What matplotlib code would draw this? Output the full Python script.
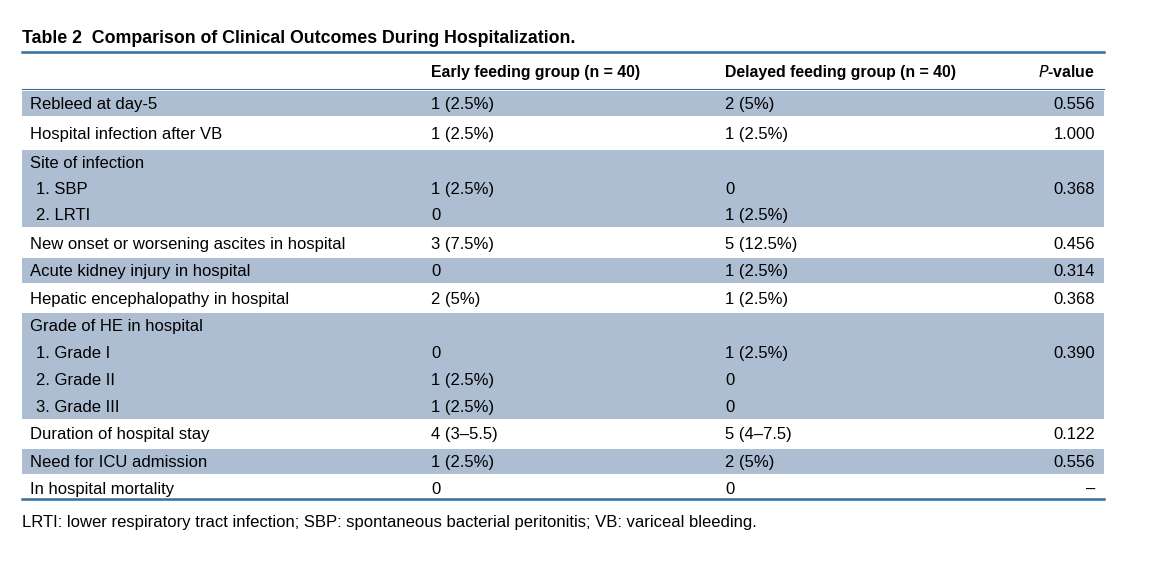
import matplotlib.pyplot as plt
from matplotlib.patches import Rectangle

plt.rcParams['font.family'] = ['Liberation Sans', 'DejaVu Sans']

# table content
labels = ["Rebleed at day-5", "Hospital infection after VB", "Site of infection",
          "1. SBP", "2. LRTI", "New onset or worsening ascites in hospital",
          "Acute kidney injury in hospital", "Hepatic encephalopathy in hospital",
          "Grade of HE in hospital", "1. Grade I", "2. Grade II", "3. Grade III",
          "Duration of hospital stay", "Need for ICU admission", "In hospital mortality"]
early = ["1 (2.5%)", "1 (2.5%)", "", "1 (2.5%)", "0", "3 (7.5%)", "0", "2 (5%)",
         "", "0", "1 (2.5%)", "1 (2.5%)", "4 (3\u20135.5)", "1 (2.5%)", "0"]
delayed = ["2 (5%)", "1 (2.5%)", "", "0", "1 (2.5%)", "5 (12.5%)", "1 (2.5%)", "1 (2.5%)",
           "", "1 (2.5%)", "0", "0", "5 (4\u20137.5)", "2 (5%)", "0"]
pvals = ["0.556", "1.000", "", "0.368", "", "0.456", "0.314", "0.368",
         "", "0.390", "", "", "0.122", "0.556", "\u2013"]
# group index per row; even groups are shaded
group = [0, 1, 2, 2, 2, 3, 4, 5, 6, 6, 6, 6, 7, 8, 9]
row_y = [103, 133, 162, 188, 214, 243, 270, 298, 325, 352, 379, 406, 433, 461, 488]

title = "Table 2  Comparison of Clinical Outcomes During Hospitalization."
headers = ["Early feeding group (n = 40)", "Delayed feeding group (n = 40)"]
footnote = "LRTI: lower respiratory tract infection; SBP: spontaneous bacterial peritonitis; VB: variceal bleeding."

band = '#adbdd2'
line = '#336f9c'
x0, x1 = 22, 1104
fs = 12

fig = plt.figure(figsize=(11.7, 5.61), dpi=100)
ax = fig.add_axes([0, 0, 1, 1])
ax.set_xlim(0, 1170)
ax.set_ylim(561, 0)
ax.axis('off')

# shaded bands
for g in sorted(set(group)):
    if g % 2 != 0:
        continue
    idx = [i for i, gg in enumerate(group) if gg == g]
    top = row_y[idx[0]] - 13.5
    bot = row_y[idx[-1]] + 13.5
    ax.add_patch(Rectangle((x0, top + 1), x1 - x0, bot - top - 2, color=band, lw=0))

ax.text(x0, 38, title, fontsize=12.8, fontweight='bold', va='center', ha='left')
ax.plot([x0, x1], [52, 52], color=line, lw=1.8)
ax.text(431, 72, headers[0], fontsize=11.4, fontweight='bold', va='center')
ax.text(725, 72, headers[1], fontsize=11.4, fontweight='bold', va='center')
ax.text(1095, 72, "$\\bf{\\it{P}}$-value", fontsize=11.4, fontweight='bold', va='center', ha='right')
ax.plot([x0, x1], [88.5, 88.5], color=line, lw=0.8)

for i, y in enumerate(row_y):
    lab = labels[i]
    lx = 36 if lab[:2] in ("1.", "2.", "3.") else 30
    y = y + 1
    ax.text(lx, y, lab, fontsize=fs, va='center')
    ax.text(431, y, early[i], fontsize=fs, va='center')
    ax.text(725, y, delayed[i], fontsize=fs, va='center')
    ax.text(1095, y, pvals[i], fontsize=fs, va='center', ha='right')

ax.plot([x0, x1], [498.5, 498.5], color=line, lw=1.8)
ax.text(x0, 522, footnote, fontsize=fs, va='center')

fig.savefig('out.png', dpi=100, facecolor='white')
